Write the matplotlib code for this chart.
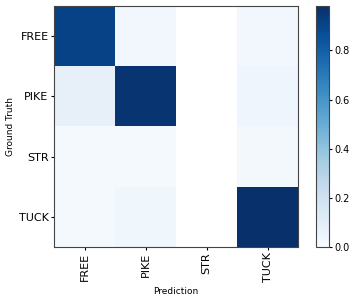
import matplotlib
matplotlib.use("Agg")
import matplotlib.pyplot as plt
import numpy as np

# Confusion matrix (rows: ground truth, cols: prediction), row-normalised
classes = ["FREE", "PIKE", "STR", "TUCK"]
row_free = [0.91, 0.03, np.nan, 0.03]
row_pike = [0.08, 0.96, np.nan, 0.04]
row_str = [0.015, 0.015, np.nan, 0.02]
row_tuck = [0.015, 0.035, np.nan, 0.98]

cm = np.array([row_free, row_pike, row_str, row_tuck])

fig = plt.figure(figsize=(3.54, 3.05), dpi=100)
ax = fig.add_axes([0.153, 0.19, 0.689, 0.79])
cax = fig.add_axes([0.893, 0.19, 0.037, 0.79])

im = ax.imshow(cm, cmap="Blues", vmin=0, vmax=np.nanmax(cm), aspect="auto")
ax.set_xticks(range(len(classes)))
ax.set_yticks(range(len(classes)))
ax.set_xticklabels(classes, rotation=90, fontsize=8)
ax.set_yticklabels(classes, fontsize=8)
ax.tick_params(length=2.5, pad=1.5)
ax.set_xlabel("Prediction", fontsize=6.5, labelpad=3)
ax.set_ylabel("Ground Truth", fontsize=6.5, labelpad=3)
for s in ax.spines.values():
    s.set_color("#444444")

cbar = fig.colorbar(im, cax=cax)
cbar.set_ticks([0.0, 0.2, 0.4, 0.6, 0.8])
cbar.ax.tick_params(labelsize=7, length=2.5, pad=1.5)
cbar.outline.set_edgecolor("#444444")

fig.savefig("out.png", dpi=100)
